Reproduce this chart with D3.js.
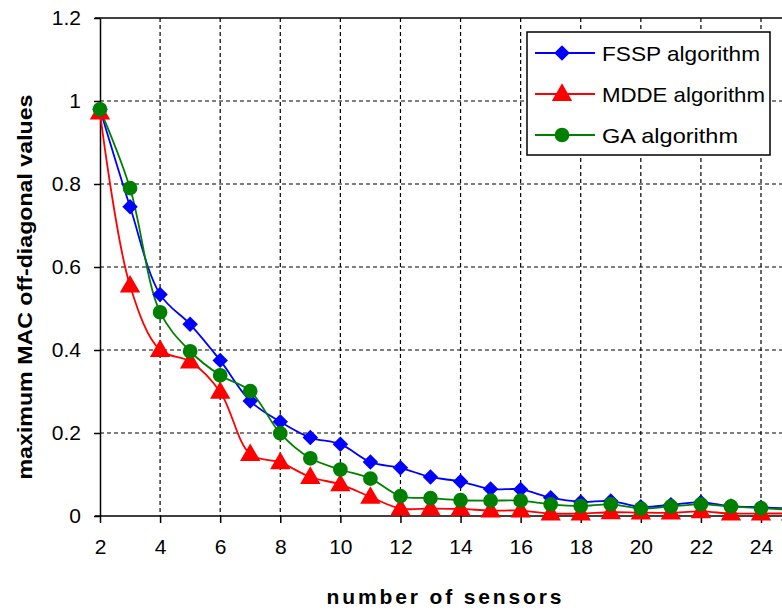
<!DOCTYPE html>
<html>
<head>
<meta charset="utf-8">
<script src="https://d3js.org/d3.v7.min.js"></script>
<style>
    body { margin: 0; background: #fff; }
    svg { font-family: Arial, "Liberation Sans", sans-serif; display: block; }
    .grid line { stroke: #000; stroke-width: 1.2; stroke-dasharray: 4,3; }
    .axis path, .axis line { stroke: #000; stroke-width: 1.5; }
    .axis text { font-size: 21px; fill: #000; }
</style>
</head>
<body>
<svg id="chart" width="782" height="612"></svg>
<script>
    var sensors = [2,3,4,5,6,7,8,9,10,11,12,13,14,15,16,17,18,19,20,21,22,23,24,25];
    var fssp = [0.98,0.745,0.534,0.462,0.375,0.277,0.227,0.189,0.173,0.13,0.116,0.094,0.083,0.065,0.064,0.044,0.034,0.036,0.022,0.027,0.033,0.024,0.021,0.018];
    var mdde = [0.972,0.555,0.40,0.372,0.299,0.149,0.129,0.094,0.076,0.046,0.018,0.018,0.017,0.013,0.013,0.006,0.006,0.009,0.008,0.008,0.011,0.006,0.006,0.006];
    var ga = [0.98,0.79,0.491,0.397,0.339,0.301,0.199,0.139,0.112,0.09,0.048,0.043,0.038,0.037,0.037,0.028,0.024,0.028,0.018,0.023,0.028,0.023,0.019,0.015];
    var xTicks = [2,4,6,8,10,12,14,16,18,20,22,24];
    var yTicks = [0,0.2,0.4,0.6,0.8,1,1.2];

    var series = [
        {name: "FSSP algorithm", values: fssp, color: "#0000ff", symbol: "diamond", len: 158},
        {name: "MDDE algorithm", values: mdde, color: "#ff0000", symbol: "triangle", len: 163},
        {name: "GA algorithm", values: ga, color: "#008000", symbol: "circle", len: 136}
    ];

    var plotLeft = 100, plotTop = 18, plotBottom = 516;

    var x = d3.scaleLinear().domain([2, 24]).range([plotLeft, 761]);
    var y = d3.scaleLinear().domain([0, 1.2]).range([plotBottom, plotTop]);

    var svg = d3.select("#chart");

    // dashed grid
    var grid = svg.append("g").attr("class", "grid");
    grid.selectAll("line.v").data(xTicks.slice(1)).enter().append("line")
        .attr("class", "v")
        .attr("x1", d => x(d)).attr("x2", d => x(d))
        .attr("y1", plotTop).attr("y2", plotBottom);
    grid.selectAll("line.h").data(yTicks.slice(1, -1)).enter().append("line")
        .attr("class", "h")
        .attr("x1", plotLeft).attr("x2", 782)
        .attr("y1", d => y(d)).attr("y2", d => y(d));

    // top frame line
    svg.append("line")
        .attr("x1", plotLeft - 5).attr("x2", 782)
        .attr("y1", plotTop).attr("y2", plotTop)
        .attr("stroke", "#000").attr("stroke-width", 1.5);

    var xAxis = svg.append("g").attr("class", "axis")
        .attr("transform", "translate(0," + plotBottom + ")")
        .call(d3.axisBottom(x).tickValues(xTicks).tickSize(7).tickSizeOuter(0).tickPadding(16));
    xAxis.select(".domain").attr("d", "M" + (plotLeft - 5) + ",0H782");

    svg.append("g").attr("class", "axis")
        .attr("transform", "translate(" + plotLeft + ",0)")
        .call(d3.axisLeft(y).tickValues(yTicks).tickSize(6).tickSizeOuter(0).tickPadding(13)
            .tickFormat(d3.format("~g")));

    var line = d3.line()
        .x((d, i) => x(sensors[i]))
        .y(d => y(d))
        .curve(d3.curveCatmullRom.alpha(0.5));

    // marker shapes; the diamond is a square turned 45 degrees
    var sym = {
        diamond: d3.symbol().type(d3.symbolSquare).size(120),
        triangle: d3.symbol().type(d3.symbolTriangle).size(180),
        circle: d3.symbol().type(d3.symbolCircle).size(170)
    };
    function markerAt(s, px, py) {
        if (s.symbol === "diamond") return "translate(" + px + "," + py + ") rotate(45)";
        if (s.symbol === "triangle") return "translate(" + px + "," + (py + 1) + ")";
        return "translate(" + px + "," + py + ")";
    }

    var plot = svg.append("g");
    series.forEach(function(s) {
        plot.append("path")
            .attr("d", line(s.values))
            .attr("fill", "none")
            .attr("stroke", s.color)
            .attr("stroke-width", 1.8);
    });
    series.forEach(function(s) {
        plot.selectAll(null).data(s.values).enter().append("path")
            .attr("transform", (d, i) => markerAt(s, x(sensors[i]), y(d)))
            .attr("d", sym[s.symbol]())
            .attr("fill", s.color);
    });

    // legend
    var lg = svg.append("g");
    lg.append("rect")
        .attr("x", 527).attr("y", 32).attr("width", 243).attr("height", 123)
        .attr("fill", "#fff").attr("stroke", "#000").attr("stroke-width", 1.5);
    series.forEach(function(s, i) {
        var cy = 53 + i * 41;
        lg.append("line").attr("x1", 535).attr("x2", 595).attr("y1", cy).attr("y2", cy)
            .attr("stroke", s.color).attr("stroke-width", 1.8);
        lg.append("path").attr("transform", markerAt(s, 562, cy))
            .attr("d", sym[s.symbol]()).attr("fill", s.color);
        lg.append("text").attr("x", 602).attr("y", cy + 8)
            .attr("font-size", 21)
            .attr("textLength", s.len).attr("lengthAdjust", "spacingAndGlyphs")
            .text(s.name);
    });

    // axis titles
    svg.append("text")
        .attr("x", 444).attr("y", 604)
        .attr("text-anchor", "middle")
        .attr("font-size", 21).attr("font-weight", "bold")
        .attr("textLength", 235).attr("lengthAdjust", "spacing")
        .text("number of sensors");
    svg.append("text")
        .attr("transform", "translate(32,287) rotate(-90)")
        .attr("text-anchor", "middle")
        .attr("font-size", 20).attr("font-weight", "bold")
        .attr("textLength", 385).attr("lengthAdjust", "spacingAndGlyphs")
        .text("maximum MAC off-diagonal values");
</script>
</body>
</html>
